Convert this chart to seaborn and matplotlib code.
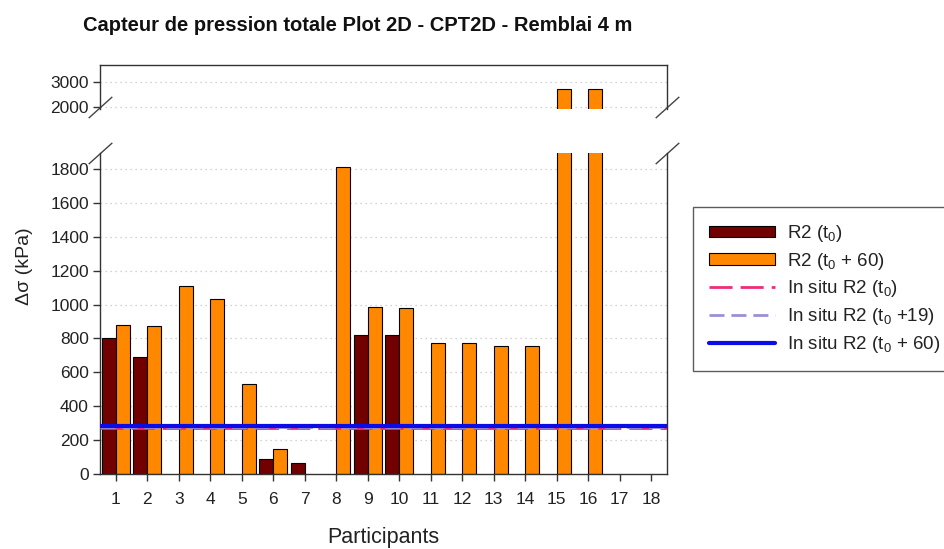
import numpy as np
import pandas as pd
import matplotlib
matplotlib.use("Agg")
import matplotlib.pyplot as plt
from matplotlib.patches import Patch
from matplotlib.lines import Line2D
import seaborn as sns

# ---------------- data ----------------
participants = [str(i) for i in range(1, 19)]
r2_t0 = [800, 690, np.nan, np.nan, np.nan, 87, 65, np.nan, 818, 818,
         np.nan, np.nan, np.nan, np.nan, np.nan, np.nan, np.nan, np.nan]
r2_t60 = [880, 875, 1110, 1035, 530, 148, np.nan, 1810, 984, 982,
          775, 775, 755, 755, 2700, 2700, np.nan, np.nan]
insitu_t0 = 270
insitu_t19 = 278
insitu_t60 = 285
series_names = ["R2 (t$_0$)", "R2 (t$_0$ + 60)"]
lower_ticks = [0, 200, 400, 600, 800, 1000, 1200, 1400, 1600, 1800]
upper_ticks = [2000, 3000]

df = pd.DataFrame({
    "Participant": participants * 2,
    "Serie": [series_names[0]] * len(participants) + [series_names[1]] * len(participants),
    "Value": r2_t0 + r2_t60,
})

# ---------------- style ----------------
sns.set_style("white")
plt.rcParams["font.family"] = ["Liberation Sans", "DejaVu Sans"]
plt.rcParams["mathtext.default"] = "regular"

col_dark = "#720000"
col_orange = "#ff8800"
col_pink = "#ec2d7c"
col_lav = "#9a90d8"
col_blue = "#0c0ce6"
txt_col = "#222222"
spine_col = "#333333"

fig = plt.figure(figsize=(9.45, 5.49), dpi=100)
ax_top = fig.add_axes([0.1058, 0.8015, 0.6, 0.0801])
ax_bot = fig.add_axes([0.1058, 0.1366, 0.6, 0.5847])

for ax in (ax_top, ax_bot):
    sns.barplot(data=df, x="Participant", y="Value", hue="Serie",
                order=participants, hue_order=series_names,
                palette=[col_dark, col_orange], saturation=1, width=0.88,
                edgecolor="black", linewidth=0.8, errorbar=None,
                legend=False, ax=ax, zorder=2)
    ax.set_xlim(-0.5, len(participants) - 0.5)
    ax.set_xlabel("")
    ax.set_ylabel("")
    for s in ax.spines.values():
        s.set_color(spine_col)
        s.set_linewidth(1.0)
    ax.tick_params(axis="y", direction="out", length=5, width=1,
                   color=spine_col, labelsize=12.5, labelcolor=txt_col, pad=3, left=True)
    ax.grid(False)

# upper panel
ax_top.set_ylim(1920, 3680)
ax_top.set_yticks(upper_ticks)
ax_top.spines["bottom"].set_visible(False)
ax_top.tick_params(axis="x", bottom=False, labelbottom=False)
for v in upper_ticks:
    ax_top.axhline(v, color="#c4c4c4", lw=0.9, ls=(0, (1, 3)), zorder=1)

# lower panel
ax_bot.set_ylim(0, 1894)
ax_bot.set_yticks(lower_ticks)
ax_bot.spines["top"].set_visible(False)
ax_bot.tick_params(axis="x", direction="out", length=5, width=1, color=spine_col,
                   labelsize=12.5, labelcolor=txt_col, pad=8, bottom=True)
for v in lower_ticks[1:]:
    ax_bot.axhline(v, color="#c4c4c4", lw=0.9, ls=(0, (1, 3)), zorder=1)

pink_ls = (0, (8.3, 2.9))
lav_ls = (0, (5.4, 2.5))
ax_bot.axhline(insitu_t0, color=col_pink, lw=2.0, ls=pink_ls, zorder=3)
ax_bot.axhline(insitu_t19, color=col_lav, lw=2.0, ls=lav_ls, zorder=3)
ax_bot.axhline(insitu_t60, color=col_blue, lw=3.0, ls="-", zorder=4)

ax_bot.set_xlabel("Participants", fontsize=15.5, color=txt_col, labelpad=14)
ax_bot.set_ylabel("\u0394\u03c3 (kPa)", fontsize=14, color=txt_col)
ax_bot.yaxis.set_label_coords(-0.118, 0.648)

# break marks
kw = dict(marker=[(-1, -0.9), (1, 0.9)], markersize=17, linestyle="none",
          color="#444444", mec="#444444", mew=1, clip_on=False)
ax_top.plot([0, 1], [0.05, 0.05], transform=ax_top.transAxes, **kw)
ax_bot.plot([0, 1], [1.0, 1.0], transform=ax_bot.transAxes, **kw)

fig.text(0.378, 1 - 31 / 549, "Capteur de pression totale Plot 2D - CPT2D - Remblai 4 m",
         ha="center", va="baseline", fontsize=14.5, fontweight="bold", color="#111111")

handles = [
    Patch(facecolor=col_dark, edgecolor="black", linewidth=0.8),
    Patch(facecolor=col_orange, edgecolor="black", linewidth=0.8),
    Line2D([0], [0], color=col_pink, lw=2.0, ls=pink_ls),
    Line2D([0], [0], color=col_lav, lw=2.0, ls=lav_ls),
    Line2D([0], [0], color=col_blue, lw=3.0),
]
labels = ["R2 (t$_0$)", "R2 (t$_0$ + 60)", "In situ R2 (t$_0$)",
          "In situ R2 (t$_0$ +19)", "In situ R2 (t$_0$ + 60)"]
leg = fig.legend(handles, labels, loc="upper left", bbox_to_anchor=(693 / 945, 1 - 207 / 549),
                 fontsize=13.5, frameon=True, fancybox=False, edgecolor="#333333",
                 handlelength=3.5, handleheight=0.55, labelspacing=0.36,
                 borderpad=0.85, handletextpad=0.65, borderaxespad=0)
leg.get_frame().set_linewidth(1.0)
for t in leg.get_texts():
    t.set_color(txt_col)

fig.savefig("out.png", dpi=100)
